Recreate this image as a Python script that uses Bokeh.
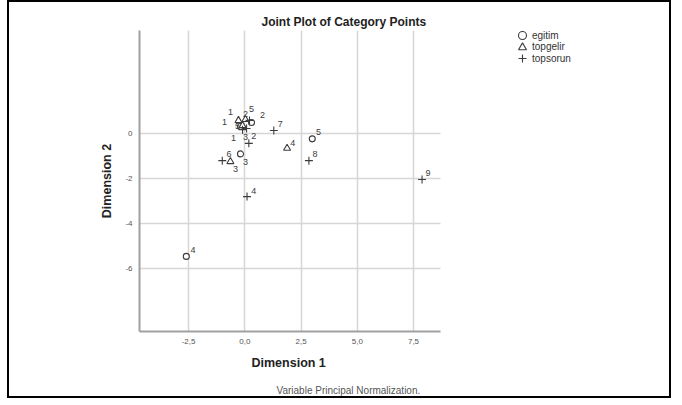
from bokeh.plotting import figure
from bokeh.models import Range1d, FixedTicker, Title, Legend, LegendItem, ColumnDataSource
from bokeh.core.properties import value
from bokeh.embed import file_html
from bokeh.resources import INLINE

# ---- data ----
egitim_cat = ["1", "2", "3", "4", "5"]
egitim_d1 = [-0.19, 0.30, -0.19, -2.60, 3.00]
egitim_d2 = [0.30, 0.48, -0.92, -5.48, -0.25]

topgelir_cat = ["1", "2", "3", "4", "5"]
topgelir_d1 = [-0.28, 0.03, -0.64, 1.88, -0.10]
topgelir_d2 = [0.57, 0.61, -1.26, -0.67, 0.34]

topsorun_cat = ["1", "2", "3", "4", "5", "6", "7", "8", "9"]
topsorun_d1 = [-0.10, 0.18, 0.08, 0.10, 0.21, -1.00, 1.29, 2.85, 7.88]
topsorun_d2 = [0.16, -0.45, 0.21, -2.82, 0.57, -1.22, 0.12, -1.22, -2.06]

x_ticks = [-2.5, 0.0, 2.5, 5.0, 7.5]
x_tick_labels = ["-2,5", "0,0", "2,5", "5,0", "7,5"]
y_ticks = [0, -2, -4, -6]
y_tick_labels = ["0", "-2", "-4", "-6"]

# label placement (pixel offsets of each category label from its point)
egitim_lx = [-16, 11, 5, 6.6, 6.3]
egitim_ly = [-4, -7, 8.4, -6.7, -6.6]
topgelir_lx = [-8, 0, 5, 5.6, -5]
topgelir_ly = [-8, -6, 7.3, -5.2, 0]
topsorun_lx = [-9, 5, -1, 6.6, 2, 6.6, 6.4, 6, 6]
topsorun_ly = [8, -7, 8, -6, -11, -6.7, -6.7, -6.7, -6.7]

FONT = value("Liberation Sans")
MARK = "#3c3c3c"
TXT = "#3c3c3c"

X_MIN, X_MAX = -4.68, 8.7      # extent of the plotted axis
Y_MIN, Y_MAX = -8.82, 4.57
FRAME_W = 500                  # frame also hosts the legend area on the right
AXIS_W = 301
x_end = X_MIN + (X_MAX - X_MIN) * FRAME_W / AXIS_W

p = figure(width=664, height=398,
           x_range=Range1d(X_MIN, x_end), y_range=Range1d(Y_MIN, Y_MAX),
           output_backend="svg", toolbar_location=None,
           min_border_left=130, min_border_right=664 - 130 - FRAME_W,
           min_border_top=28, min_border_bottom=69)
p.styles = {"margin-left": "7px", "border": "2px solid black"}
p.outline_line_color = None
p.background_fill_color = "white"
p.border_fill_color = "white"

p.xaxis.ticker = FixedTicker(ticks=x_ticks)
p.xaxis.major_label_overrides = dict(zip(x_ticks, x_tick_labels))
p.xaxis.bounds = (X_MIN, X_MAX)
p.yaxis.ticker = FixedTicker(ticks=y_ticks)
p.yaxis.major_label_overrides = dict(zip(y_ticks, y_tick_labels))
p.yaxis.axis_label = "Dimension 2"
for ax in (p.xaxis, p.yaxis):
    ax.axis_line_color = "#a0a0a0"
    ax.axis_line_width = 2
    ax.major_tick_line_color = None
    ax.minor_tick_line_color = None
    ax.major_label_text_font = "Liberation Sans"
    ax.major_label_text_font_size = "8px"
    ax.major_label_text_color = "#555555"
    ax.axis_label_text_font = "Liberation Sans"
    ax.axis_label_text_font_size = "12.5px"
    ax.axis_label_text_font_style = "bold"
    ax.axis_label_text_color = "#222222"
p.xaxis.major_label_standoff = 1
p.yaxis.major_label_standoff = 1
p.yaxis.axis_label_standoff = 8
p.xgrid.grid_line_color = "#d6d6d6"
p.ygrid.grid_line_color = "#d6d6d6"
p.xgrid.grid_line_width = 1.5
p.ygrid.grid_line_width = 1.5
yg = p.ygrid[0]
if "cross_bounds" in yg.properties():
    yg.cross_bounds = (X_MIN, X_MAX)

series = [
    ("egitim", "circle", 6, egitim_cat, egitim_d1, egitim_d2, egitim_lx, egitim_ly),
    ("topgelir", "triangle", 7, topgelir_cat, topgelir_d1, topgelir_d2, topgelir_lx, topgelir_ly),
    ("topsorun", "cross", 8, topsorun_cat, topsorun_d1, topsorun_d2, topsorun_lx, topsorun_ly),
]
legend_bottoms = [286.0, 274.3, 263.0]
for (name, marker, size, cat, d1, d2, lx, ly), lb in zip(series, legend_bottoms):
    src = ColumnDataSource(dict(x=d1, y=d2, t=cat, dx=lx, dy=ly))
    r = p.scatter("x", "y", source=src, marker=marker, size=size,
                  fill_color="white", fill_alpha=0.0 if marker == "cross" else 1.0,
                  line_color=MARK, line_width=1.1)
    p.text("x", "y", text="t", source=src, x_offset="dx", y_offset="dy",
           text_font=FONT, text_font_size="9px", text_color=TXT,
           text_align="center", text_baseline="middle")
    lg = Legend(items=[LegendItem(label=name, renderers=[r])], location=(373, lb),
                glyph_width=20, glyph_height=20, label_standoff=0, padding=0, margin=0,
                spacing=0, border_line_color=None, background_fill_alpha=0,
                label_text_font="Liberation Sans", label_text_font_size="10px",
                label_text_color="#333333", label_height=20)
    p.add_layout(lg, "center")

p.add_layout(Title(text="Joint Plot of Category Points", align="left", offset=122,
                   standoff=4, text_font="Liberation Sans", text_font_size="12px",
                   text_font_style="bold", text_color="#222222"), "above")
# x-axis title, centred under the axis (the frame also spans the legend area)
p.add_layout(Title(text="Dimension 1", align="left", offset=112,
                   standoff=15, text_font="Liberation Sans", text_font_size="12.5px",
                   text_font_style="bold", text_color="#222222"), "below")
p.add_layout(Title(text="Variable Principal Normalization.", align="left", offset=137,
                   standoff=10, text_font="Liberation Sans", text_font_size="10px",
                   text_font_style="normal", text_color="#555555"), "below")

open("out.html", "w").write(file_html(p, INLINE))
